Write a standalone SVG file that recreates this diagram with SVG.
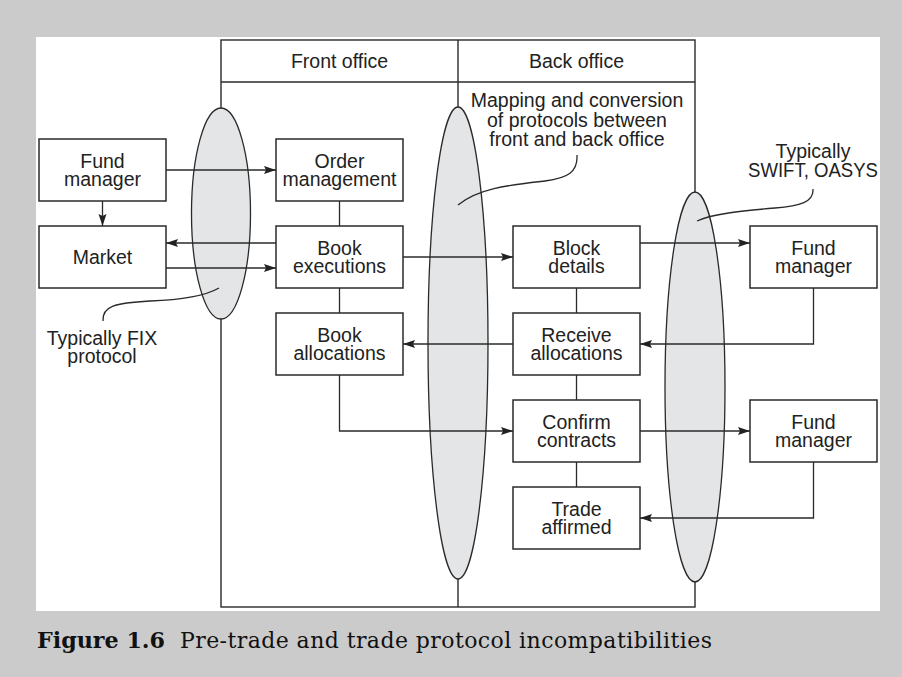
<svg xmlns="http://www.w3.org/2000/svg" width="902" height="677" viewBox="0 0 902 677">
  <defs>
    <marker id="arrow" markerUnits="userSpaceOnUse" markerWidth="13" markerHeight="9" refX="12" refY="4" orient="auto">
      <path d="M0,0 L12,4 L0,8 L2,4 Z" fill="#222"/>
    </marker>
    <style>
      .box { fill: #fff; stroke: #2a2a2a; stroke-width: 1.5; }
      .lane { fill: none; stroke: #2a2a2a; stroke-width: 1.4; }
      .oval { fill: #e4e5e7; stroke: #2a2a2a; stroke-width: 1.3; }
      .wire { fill: none; stroke: #2a2a2a; stroke-width: 1.3; }
      .arr { marker-end: url(#arrow); }
      .lbl { font-family: "Liberation Sans", Arial, sans-serif; font-size: 19.5px; fill: #222; text-anchor: middle; }
      .cap { font-family: "DejaVu Serif", "Liberation Serif", serif; font-size: 22px; fill: #111; }
    </style>
  </defs>

  <!-- page background and white panel -->
  <rect x="0" y="0" width="902" height="677" fill="#cbcbcb"/>
  <rect x="36" y="37" width="844" height="574" fill="#fff"/>

  <!-- front / back office lanes -->
  <g id="lanes">
    <rect class="lane" x="221" y="40" width="474" height="567"/>
    <line class="lane" x1="221" y1="82" x2="695" y2="82"/>
    <line class="lane" x1="458" y1="40" x2="458" y2="607"/>
    <text class="lbl" x="339.5" y="68">Front office</text>
    <text class="lbl" x="576.5" y="68">Back office</text>
  </g>

  <!-- protocol boundaries -->
  <g id="boundary-fix">
    <ellipse class="oval" cx="221" cy="213.5" rx="29.5" ry="105.5"/>
  </g>
  <g id="boundary-mapping">
    <ellipse class="oval" cx="458" cy="343" rx="30" ry="236"/>
  </g>
  <g id="boundary-swift">
    <ellipse class="oval" cx="695" cy="387" rx="30" ry="195"/>
  </g>

  <!-- connectors -->
  <g id="connectors">
    <line class="wire arr" x1="166" y1="170" x2="276" y2="170"/>
    <line class="wire arr" x1="102.5" y1="201" x2="102.5" y2="226"/>
    <line class="wire arr" x1="276" y1="243" x2="166" y2="243"/>
    <line class="wire arr" x1="166" y1="268" x2="276" y2="268"/>
    <line class="wire" x1="339.5" y1="201" x2="339.5" y2="226"/>
    <line class="wire" x1="339.5" y1="288" x2="339.5" y2="313"/>
    <line class="wire arr" x1="403" y1="257" x2="513" y2="257"/>
    <line class="wire arr" x1="640" y1="243" x2="750" y2="243"/>
    <line class="wire" x1="576.5" y1="288" x2="576.5" y2="313"/>
    <polyline class="wire arr" points="813.5,288 813.5,344 640,344"/>
    <line class="wire arr" x1="513" y1="344" x2="403" y2="344"/>
    <polyline class="wire arr" points="339.5,375 339.5,431 513,431"/>
    <line class="wire" x1="576.5" y1="375" x2="576.5" y2="400"/>
    <line class="wire arr" x1="640" y1="431" x2="750" y2="431"/>
    <line class="wire" x1="576.5" y1="462" x2="576.5" y2="487"/>
    <polyline class="wire arr" points="813.5,462 813.5,518 640,518"/>
    <!-- callout leaders -->
    <path class="wire" d="M103,321 C102,306 115,303 150,301 C180,300 205,296 219,288"/>
    <path class="wire" d="M577,155 C578,172 568,178 545,181 C510,185 478,188 458,205"/>
    <path class="wire" d="M813,189 C814,202 800,206 775,208 C740,211 712,214 697,221"/>
  </g>

  <!-- nodes -->
  <g id="fund-manager-left">
    <rect class="box" x="39" y="139" width="127" height="62"/>
    <text class="lbl" x="102.5" y="167.5">Fund</text>
    <text class="lbl" x="102.5" y="185.5">manager</text>
  </g>
  <g id="market">
    <rect class="box" x="39" y="226" width="127" height="62"/>
    <text class="lbl" x="102.5" y="264">Market</text>
  </g>
  <g id="order-management">
    <rect class="box" x="276" y="139" width="127" height="62"/>
    <text class="lbl" x="339.5" y="167.5">Order</text>
    <text class="lbl" x="339.5" y="185.5">management</text>
  </g>
  <g id="book-executions">
    <rect class="box" x="276" y="226" width="127" height="62"/>
    <text class="lbl" x="339.5" y="254.5">Book</text>
    <text class="lbl" x="339.5" y="272.5">executions</text>
  </g>
  <g id="book-allocations">
    <rect class="box" x="276" y="313" width="127" height="62"/>
    <text class="lbl" x="339.5" y="341.5">Book</text>
    <text class="lbl" x="339.5" y="359.5">allocations</text>
  </g>
  <g id="block-details">
    <rect class="box" x="513" y="226" width="127" height="62"/>
    <text class="lbl" x="576.5" y="254.5">Block</text>
    <text class="lbl" x="576.5" y="272.5">details</text>
  </g>
  <g id="receive-allocations">
    <rect class="box" x="513" y="313" width="127" height="62"/>
    <text class="lbl" x="576.5" y="341.5">Receive</text>
    <text class="lbl" x="576.5" y="359.5">allocations</text>
  </g>
  <g id="confirm-contracts">
    <rect class="box" x="513" y="400" width="127" height="62"/>
    <text class="lbl" x="576.5" y="428.5">Confirm</text>
    <text class="lbl" x="576.5" y="446.5">contracts</text>
  </g>
  <g id="trade-affirmed">
    <rect class="box" x="513" y="487" width="127" height="62"/>
    <text class="lbl" x="576.5" y="515.5">Trade</text>
    <text class="lbl" x="576.5" y="533.5">affirmed</text>
  </g>
  <g id="fund-manager-top">
    <rect class="box" x="750" y="226" width="127" height="62"/>
    <text class="lbl" x="813.5" y="254.5">Fund</text>
    <text class="lbl" x="813.5" y="272.5">manager</text>
  </g>
  <g id="fund-manager-bottom">
    <rect class="box" x="750" y="400" width="127" height="62"/>
    <text class="lbl" x="813.5" y="428.5">Fund</text>
    <text class="lbl" x="813.5" y="446.5">manager</text>
  </g>

  <!-- annotations -->
  <g id="note-fix">
    <text class="lbl" x="102" y="345">Typically FIX</text>
    <text class="lbl" x="102" y="363">protocol</text>
  </g>
  <g id="note-mapping">
    <text class="lbl" x="577" y="107">Mapping and conversion</text>
    <text class="lbl" x="577" y="126.5">of protocols between</text>
    <text class="lbl" x="577" y="146">front and back office</text>
  </g>
  <g id="note-swift">
    <text class="lbl" x="813" y="158">Typically</text>
    <text class="lbl" x="813" y="176.5" textLength="130" lengthAdjust="spacingAndGlyphs">SWIFT, OASYS</text>
  </g>

  <!-- caption -->
  <g id="caption">
    <text class="cap" x="37" y="648" font-weight="bold" textLength="128" lengthAdjust="spacingAndGlyphs">Figure 1.6</text>
    <text class="cap" x="180" y="648" textLength="532" lengthAdjust="spacing">Pre-trade and trade protocol incompatibilities</text>
  </g>
</svg>
